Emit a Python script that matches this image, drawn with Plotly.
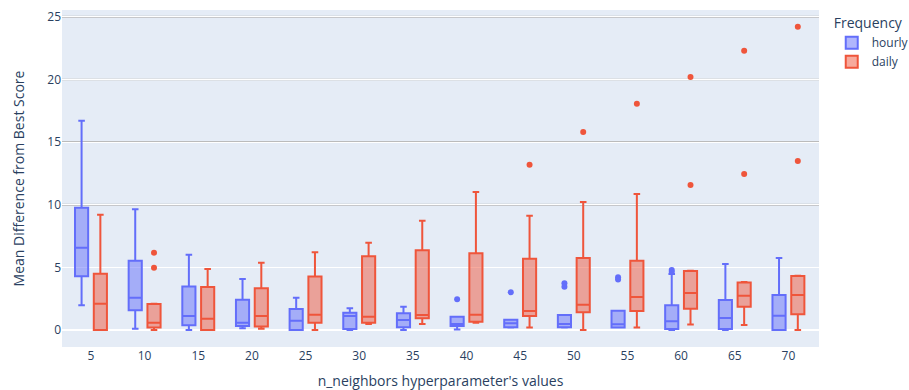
import plotly.graph_objects as go

categories = ["5", "10", "15", "20", "25", "30", "35", "40", "45", "50", "55", "60", "65", "70"]

# hourly box statistics
hourly_lower = [1.97, 0.10, 0.00, 0.13, 0.00, 0.00, 0.00, 0.03, 0.20, 0.20, 0.19, 0.00, 0.00, 0.00]
hourly_q1 = [4.28, 1.57, 0.37, 0.32, 0.00, 0.08, 0.21, 0.32, 0.21, 0.21, 0.19, 0.08, 0.08, 0.00]
hourly_median = [6.57, 2.58, 1.12, 0.58, 0.74, 1.12, 0.80, 0.48, 0.53, 0.48, 0.45, 0.69, 0.96, 1.14]
hourly_q3 = [9.76, 5.53, 3.46, 2.42, 1.68, 1.38, 1.33, 1.06, 0.82, 1.20, 1.54, 1.97, 2.39, 2.79]
hourly_upper = [16.70, 9.63, 6.01, 4.07, 2.58, 1.73, 1.86, 1.06, 0.82, 1.20, 1.54, 4.47, 5.27, 5.75]
hourly_outlier_x = ["40", "45", "50", "50", "55", "55", "60", "60"]
hourly_outlier_y = [2.45, 3.01, 3.73, 3.45, 4.20, 4.02, 4.79, 4.62]

# daily box statistics
daily_lower = [0.00, 0.00, 0.00, 0.10, 0.00, 0.48, 0.48, 0.58, 0.19, 0.00, 0.19, 0.43, 0.40, 0.00]
daily_q1 = [0.00, 0.19, 0.00, 0.27, 0.58, 0.58, 0.93, 0.66, 1.12, 1.41, 1.52, 1.70, 1.86, 1.25]
daily_median = [2.10, 0.58, 0.90, 1.12, 1.22, 1.06, 1.20, 1.22, 1.52, 2.02, 2.63, 2.95, 2.74, 2.79]
daily_q3 = [4.49, 2.07, 3.43, 3.33, 4.26, 5.88, 6.36, 6.12, 5.69, 5.75, 5.53, 4.70, 3.78, 4.31]
daily_upper = [9.20, 2.10, 4.87, 5.37, 6.20, 6.97, 8.72, 11.01, 9.12, 10.22, 10.85, 4.72, 3.83, 4.33]
daily_outlier_x = ["10", "10", "45", "50", "55", "60", "60", "65", "65", "70", "70"]
daily_outlier_y = [6.17, 4.97, 13.19, 15.80, 18.06, 20.19, 11.57, 22.29, 12.45, 24.20, 13.49]

ref_lines_dark = [10, 15, 25]
ref_lines_light = [20]

BLUE = "#636efa"
RED = "#EF553B"

fig = go.Figure()
fig.add_trace(go.Box(
    name="hourly", x=categories, q1=hourly_q1, median=hourly_median, q3=hourly_q3,
    lowerfence=hourly_lower, upperfence=hourly_upper,
    marker_color=BLUE, offsetgroup="hourly",
))
fig.add_trace(go.Box(
    name="daily", x=categories, q1=daily_q1, median=daily_median, q3=daily_q3,
    lowerfence=daily_lower, upperfence=daily_upper,
    marker_color=RED, offsetgroup="daily",
))
fig.add_trace(go.Scatter(
    x=hourly_outlier_x, y=hourly_outlier_y, mode="markers", showlegend=False,
    marker=dict(color=BLUE, size=6), offsetgroup="hourly", hoverinfo="y",
))
fig.add_trace(go.Scatter(
    x=daily_outlier_x, y=daily_outlier_y, mode="markers", showlegend=False,
    marker=dict(color=RED, size=6), offsetgroup="daily", hoverinfo="y",
))

for v in ref_lines_dark:
    fig.add_shape(type="line", xref="paper", x0=0, x1=1, yref="y", y0=v, y1=v,
                  line=dict(color="#bbbbbb", width=2), layer="below")
for v in ref_lines_light:
    fig.add_shape(type="line", xref="paper", x0=0, x1=1, yref="y", y0=v, y1=v,
                  line=dict(color="#d4d4d4", width=2), layer="below")

fig.update_layout(
    template="plotly",
    width=909, height=390,
    margin=dict(l=62, r=90, t=10, b=43, autoexpand=False),
    boxmode="group",
    scattermode="group",
    scattergap=0.3,
    legend=dict(title_text="Frequency", xref="container", x=0.915, xanchor="left",
                y=1, yanchor="top"),
    xaxis=dict(title_text="n_neighbors hyperparameter's values", type="category",
               categoryorder="array", categoryarray=categories, automargin=False,
               range=[-0.54, 13.57]),
    yaxis=dict(title=dict(text="Mean Difference from Best Score", standoff=19),
               range=[-1.36, 25.54], automargin=False),
)

fig.write_html("out.html")
